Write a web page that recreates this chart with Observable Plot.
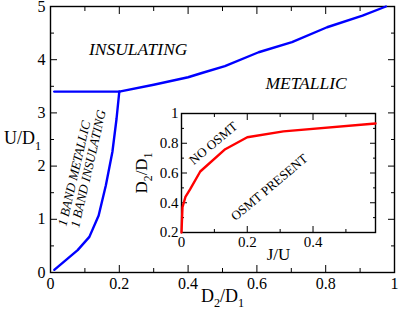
<!DOCTYPE html>
<html><head><meta charset="utf-8">
<script src="https://cdn.jsdelivr.net/npm/d3@7"></script>
<script src="https://cdn.jsdelivr.net/npm/@observablehq/plot@0.6"></script>
<style>
body{margin:0;background:white}
#c{position:relative;width:399px;height:309px}
#c svg{position:absolute;overflow:visible}
#c svg, #c svg text, #c svg tspan{font-family:"Liberation Serif","Times New Roman",serif !important}
</style>
</head><body><div id="c"></div>
<script>
// ---- Main panel data ----
const steepX = [0.011, 0.079, 0.113, 0.14, 0.161, 0.18, 0.192, 0.2];
const steepY = [0.05, 0.42, 0.67, 1.07, 1.64, 2.27, 2.89, 3.4];
const flatX = [0.011, 0.2];
const flatY = [3.4, 3.4];
const upperX = [0.2, 0.3, 0.4, 0.44, 0.507, 0.605, 0.702, 0.804, 0.907, 0.975];
const upperY = [3.4, 3.53, 3.67, 3.75, 3.88, 4.14, 4.33, 4.61, 4.83, 5.0];
const mainXTicks = [0, 0.2, 0.4, 0.6, 0.8, 1];
const mainXTickLabels = ["0", "0.2", "0.4", "0.6", "0.8", "1"];
const mainXMinor = [0.1, 0.3, 0.5, 0.7, 0.9];
const mainYTicks = [0, 1, 2, 3, 4, 5];
const mainYTickLabels = ["0", "1", "2", "3", "4", "5"];
const mainYMinor = [0.5, 1.5, 2.5, 3.5, 4.5];
const regionLabels = ["INSULATING", "METALLIC"];
const regionX = [0.255, 0.743];
const regionY = [4.2, 3.56];
const bandLabels = ["1 BAND METALLIC", "1 BAND INSULATING"];
const bandX = [0.069, 0.110];
const bandY = [1.86, 1.95];

// ---- Inset data ----
const insetX = [0, 0.003, 0.012, 0.026, 0.057, 0.133, 0.2, 0.31, 0.59];
const insetY = [0.2, 0.37, 0.44, 0.49, 0.61, 0.76, 0.84, 0.88, 0.933];
const insetXTicks = [0, 0.2, 0.4];
const insetXTickLabels = ["0", "0.2", "0.4"];
const insetXMinor = [0.1, 0.3, 0.5];
const insetYTicks = [0.2, 0.4, 0.6, 0.8, 1];
const insetYTickLabels = ["0.2", "0.4", "0.6", "0.8", "1"];
const insetYMinor = [0.3, 0.5, 0.7, 0.9];
const insetLabels = ["NO OSMT", "OSMT PRESENT"];
const insetLabelX = [0.097, 0.267];
const insetLabelY = [0.80, 0.503];

const FONT = "Liberation Serif";
const zip = (xs, ys) => xs.map((x, i) => ({x, y: ys[i]}));
const fmt = (ticks, labels) => d => labels[ticks.indexOf(d)] ?? "";

function tickAxes(xT, xM, yT, yM, big, small) {
  const none = () => "";
  return [
    Plot.axisX(xT, {anchor: "bottom", tickSize: -big, tickFormat: none, label: null}),
    Plot.axisX(xM, {anchor: "bottom", tickSize: -small, tickFormat: none, label: null}),
    Plot.axisX(xT, {anchor: "top", tickSize: -big, tickFormat: none, label: null}),
    Plot.axisX(xM, {anchor: "top", tickSize: -small, tickFormat: none, label: null}),
    Plot.axisY(yT, {anchor: "left", tickSize: -big, tickFormat: none, label: null}),
    Plot.axisY(yM, {anchor: "left", tickSize: -small, tickFormat: none, label: null}),
    Plot.axisY(yT, {anchor: "right", tickSize: -big, tickFormat: none, label: null}),
    Plot.axisY(yM, {anchor: "right", tickSize: -small, tickFormat: none, label: null})
  ];
}

function subscriptify(svg, fs) {
  d3.select(svg).selectAll("text").each(function() {
    const t = this.textContent;
    if (!t.includes("_")) return;
    const parts = t.split(/_(\d)/);
    const el = d3.select(this);
    el.selectAll("*").remove();
    this.textContent = "";
    parts.forEach((p, i) => {
      if (p === "") return;
      if (i % 2 === 1) {
        el.append("tspan").attr("dy", 0.3 * fs).attr("font-size", 0.68 * fs).text(p);
      } else {
        const ts = el.append("tspan").text(p);
        if (i > 0) ts.attr("dy", -0.3 * fs);
      }
    });
  });
}

const main = Plot.plot({
  width: 399, height: 309,
  marginLeft: 50, marginRight: 5, marginTop: 6, marginBottom: 37,
  x: {domain: [0, 1], label: null},
  y: {domain: [0, 5], label: null},
  style: {background: "white", color: "black"},
  marks: [
    Plot.axisX(mainXTicks, {anchor: "bottom", tickSize: 0, tickPadding: 5, tickFormat: fmt(mainXTicks, mainXTickLabels), fontSize: 16, fontFamily: FONT, label: null}),
    Plot.axisY(mainYTicks, {anchor: "left", tickSize: 0, tickPadding: 5, tickFormat: fmt(mainYTicks, mainYTickLabels), fontSize: 16, fontFamily: FONT, label: null}),
    ...tickAxes(mainXTicks, mainXMinor, mainYTicks, mainYMinor, 7, 4),
    Plot.frame({stroke: "black", strokeWidth: 1.4}),
    Plot.line(zip(flatX, flatY), {x: "x", y: "y", stroke: "#0000ff", strokeWidth: 2.4}),
    Plot.line(zip(steepX, steepY), {x: "x", y: "y", stroke: "#0000ff", strokeWidth: 2.4}),
    Plot.line(zip(upperX, upperY), {x: "x", y: "y", stroke: "#0000ff", strokeWidth: 2.4}),
    Plot.text(regionLabels, {x: (d, i) => regionX[i], y: (d, i) => regionY[i], text: d => d, fontStyle: "italic", fontSize: 17.5, fontFamily: FONT, textAnchor: "middle"}),
    Plot.text(bandLabels, {x: (d, i) => bandX[i], y: (d, i) => bandY[i], text: d => d, fontStyle: "italic", fontSize: 13, fontFamily: FONT, textAnchor: "middle", rotate: -77}),
    Plot.text(["U/D_1"], {frameAnchor: "left", y: [2.52], text: d => d, fontSize: 18, fontFamily: FONT, textAnchor: "middle", lineAnchor: "middle", dx: -28}),
    Plot.text(["D_2/D_1"], {frameAnchor: "bottom", text: d => d, fontSize: 18, fontFamily: FONT, textAnchor: "middle", lineAnchor: "middle", dy: 23.5})
  ]
});
subscriptify(main, 18);
main.style.left = "0px"; main.style.top = "0px";
document.getElementById("c").appendChild(main);

const inset = Plot.plot({
  width: 259, height: 164,
  marginLeft: 61, marginRight: 4, marginTop: 13, marginBottom: 32,
  x: {domain: [0, 0.59], label: null},
  y: {domain: [0.2, 1], label: null},
  style: {background: "transparent", color: "black"},
  marks: [
    Plot.frame({fill: "white", stroke: "none"}),
    Plot.axisX(insetXTicks, {anchor: "bottom", tickSize: 0, tickPadding: 4, tickFormat: fmt(insetXTicks, insetXTickLabels), fontSize: 15, fontFamily: FONT, label: null}),
    Plot.axisY(insetYTicks, {anchor: "left", tickSize: 0, tickPadding: 3, tickFormat: fmt(insetYTicks, insetYTickLabels), fontSize: 15, fontFamily: FONT, label: null}),
    ...tickAxes(insetXTicks, insetXMinor, insetYTicks, insetYMinor, 6, 3),
    Plot.frame({stroke: "black", strokeWidth: 1.4}),
    Plot.line(zip(insetX, insetY), {x: "x", y: "y", stroke: "#ff0000", strokeWidth: 2.4}),
    Plot.text(insetLabels, {x: (d, i) => insetLabelX[i], y: (d, i) => insetLabelY[i], text: d => d, fontSize: 13, fontFamily: FONT, textAnchor: "middle", rotate: -40}),
    Plot.text(["J/U"], {frameAnchor: "bottom", text: d => d, fontSize: 17, fontFamily: FONT, textAnchor: "middle", lineAnchor: "middle", dy: 21.6}),
    Plot.text(["D_2/D_1"], {frameAnchor: "left", text: d => d, fontSize: 17, fontFamily: FONT, textAnchor: "middle", lineAnchor: "middle", rotate: -90, dx: -40})
  ]
});
subscriptify(inset, 17);
inset.style.left = "120px"; inset.style.top = "100px";
document.getElementById("c").appendChild(inset);
</script>
</body></html>
